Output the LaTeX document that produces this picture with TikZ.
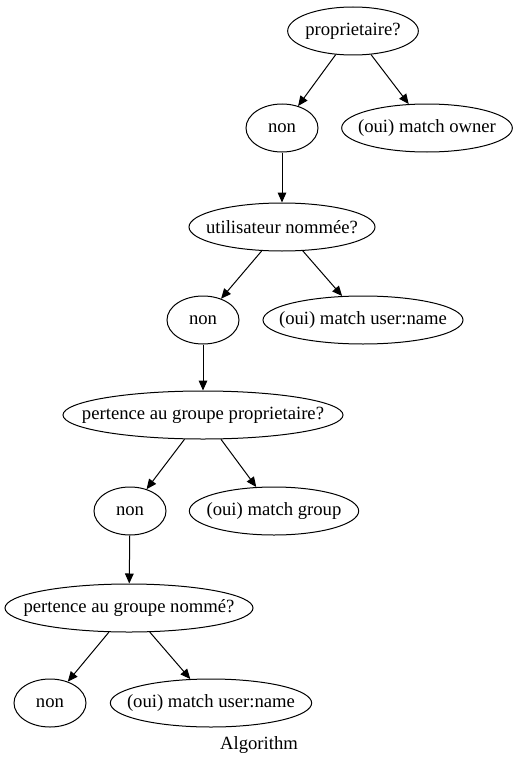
\documentclass[tikz,border=0pt]{standalone}
\usepackage{fontspec}
\setmainfont{Liberation Serif}
\usetikzlibrary{arrows.meta, shapes.geometric}

\begin{document}
\begin{tikzpicture}[
  x=0.75pt, y=-0.75pt,
  state/.style={ellipse, draw, line width=0.75pt, inner xsep=-40pt, inner ysep=0pt,
    minimum height=36pt, font=\fontsize{14}{16}\selectfont},
  edge/.style={-{Triangle[length=7.5pt, width=6.5pt]}, line width=0.75pt}
]
\useasboundingbox (0,0) rectangle (520,767);

\node[state, minimum width=98pt] (q1) at (353,31) {proprietaire?};
\node[state, minimum width=54pt] (n1) at (282,128) {non};
\node[state, minimum width=128pt] (y1) at (427,128) {(oui) match owner};
\node[state, minimum width=139.5pt] (q2) at (282,227) {utilisateur nommée?};
\node[state, minimum width=54pt] (n2) at (203,320) {non};
\node[state, minimum width=150pt] (y2) at (363,320) {(oui) match user:name};
\node[state, minimum width=210pt] (q3) at (203,415) {pertence au groupe proprietaire?};
\node[state, minimum width=54pt] (n3) at (130,511) {non};
\node[state, minimum width=127pt] (y3) at (274,511) {(oui) match group};
\node[state, minimum width=186pt] (q4) at (129,608) {pertence au groupe nommé?};
\node[state, minimum width=54pt] (n4) at (50,703) {non};
\node[state, minimum width=151pt] (y4) at (211,703) {(oui) match user:name};
\node[font=\fontsize{14}{16}\selectfont] (title) at (259,745) {Algorithm};

\draw[edge] (q1) -- (n1);
\draw[edge] (q1) -- (y1);
\draw[edge] (n1) -- (q2);
\draw[edge] (q2) -- (n2);
\draw[edge] (q2) -- (y2);
\draw[edge] (n2) -- (q3);
\draw[edge] (q3) -- (n3);
\draw[edge] (q3) -- (y3);
\draw[edge] (n3) -- (q4);
\draw[edge] (q4) -- (n4);
\draw[edge] (q4) -- (y4);
\end{tikzpicture}
\end{document}
